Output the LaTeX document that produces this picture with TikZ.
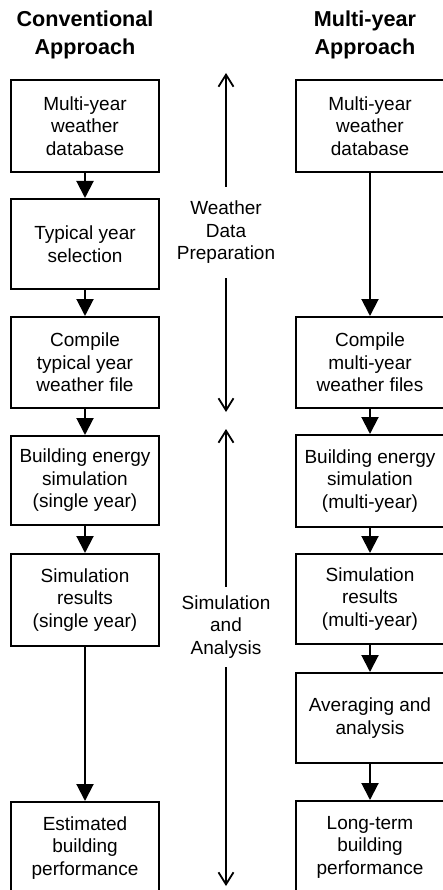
\documentclass[tikz,border=0pt]{standalone}
\usepackage{fontspec}
\setmainfont{Liberation Sans}
\usetikzlibrary{arrows.meta}
\begin{document}
\begin{tikzpicture}[x=1pt,y=-1pt,
  box/.style={draw,line width=2pt,minimum width=148pt,align=center,inner sep=0pt,font=\fontsize{19}{22.5}\selectfont},
  flow/.style={line width=2pt,-{Triangle[length=17pt,width=17pt]}},
  span/.style={line width=1.8pt,-{Straight Barb[length=12pt,width=15pt]}},
  title/.style={font=\bfseries\fontsize{21.6}{28}\selectfont,align=center,inner sep=0pt},
  mid/.style={font=\fontsize{19}{22.5}\selectfont,align=center,inner xsep=0pt}]
\clip (0,0) rectangle (443,890);
% titles
\node[title] (tl) at (85,35.4) {Conventional\\Approach};
\node[title] (tr) at (365,35.4) {Multi-year\\Approach};
% left column
\node[box,minimum height=92pt] (L1) at (85,126) {Multi-year\\weather\\database};
\node[box,minimum height=90pt] (L2) at (85,244) {Typical year\\selection};
\node[box,minimum height=91pt] (L3) at (85,362.5) {Compile\\typical year\\weather file};
\node[box,minimum height=89pt] (L4) at (85,480.5) {Building energy\\simulation\\(single year)};
\node[box,minimum height=92pt] (L5) at (85,600) {Simulation\\results\\(single year)};
\node[box,minimum height=92pt] (L6) at (85,848) {Estimated\\building\\performance};
% right column
\node[box,minimum height=92pt] (R1) at (370,126) {Multi-year\\weather\\database};
\node[box,minimum height=91pt] (R2) at (370,362.5) {Compile\\multi-year\\weather files};
\node[box,minimum height=92pt] (R3) at (370,481) {Building energy\\simulation\\(multi-year)};
\node[box,minimum height=90pt] (R4) at (370,599) {Simulation\\results\\(multi-year)};
\node[box,minimum height=90pt] (R5) at (370,718) {Averaging and\\analysis};
\node[box,minimum height=92pt] (R6) at (370,847) {Long-term\\building\\performance};
% flow arrows
\draw[flow] (L1) -- (L2);
\draw[flow] (L2) -- (L3);
\draw[flow] (L3) -- (L4);
\draw[flow] (L4) -- (L5);
\draw[flow] (L5) -- (L6);
\draw[flow] (R1) -- (R2);
\draw[flow] (R2) -- (R3);
\draw[flow] (R3) -- (R4);
\draw[flow] (R4) -- (R5);
\draw[flow] (R5) -- (R6);
% middle spans
\coordinate (t1) at (226,73);
\coordinate (b1) at (226,412);
\coordinate (t2) at (226,429);
\coordinate (b2) at (226,886);
\node[mid,inner ysep=14pt] (wtxt) at (226,232.5) {Weather\\Data\\Preparation};
\node[mid,inner ysep=8.5pt] (stxt) at (226,627) {Simulation\\and\\Analysis};
\draw[span] (wtxt.north) -- (t1);
\draw[span] (wtxt.south) -- (b1);
\draw[span] (stxt.north) -- (t2);
\draw[span] (stxt.south) -- (b2);
\end{tikzpicture}
\end{document}
